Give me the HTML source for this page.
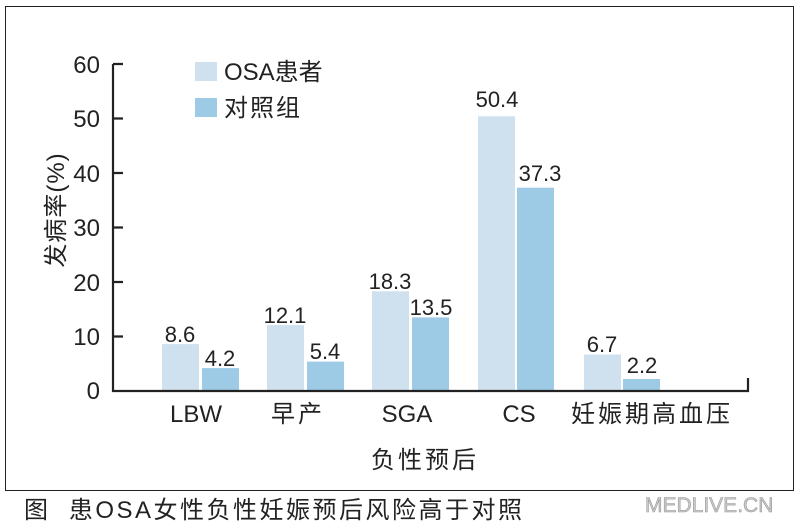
<!DOCTYPE html>
<html><head><meta charset="utf-8"><style>
body{margin:0;background:#fff;}
svg{display:block;font-family:"Liberation Sans","Noto Sans CJK SC",sans-serif;}
</style></head><body>
<svg width="798" height="525" viewBox="0 0 798 525">
<rect x="5.5" y="6.5" width="788" height="484" fill="none" stroke="#222" stroke-width="1"/>
<g fill="#cfe0ee">
<rect x="162" y="344.1" width="37" height="46.9"/>
<rect x="267" y="325.1" width="37" height="65.9"/>
<rect x="372" y="291.3" width="37" height="99.7"/>
<rect x="478" y="116.3" width="37" height="274.7"/>
<rect x="584" y="354.5" width="37" height="36.5"/>
</g>
<g fill="#9dcbe6">
<rect x="202" y="368.1" width="37" height="22.9"/>
<rect x="307" y="361.6" width="37" height="29.4"/>
<rect x="412" y="317.4" width="37" height="73.6"/>
<rect x="517" y="187.7" width="37" height="203.3"/>
<rect x="623" y="379" width="37" height="12"/>
</g>
<g stroke="#222" stroke-width="2.2" fill="none">
<path d="M113 64 V391 H748 V378"/>
<path d="M113 64 H123 M113 118.5 H123 M113 173 H123 M113 227.5 H123 M113 282 H123 M113 336.5 H123"/>
</g>
<g font-size="24" fill="#222" text-anchor="end">
<text x="100" y="73">60</text><text x="100" y="127">50</text><text x="100" y="182">40</text>
<text x="100" y="236">30</text><text x="100" y="291">20</text><text x="100" y="345">10</text><text x="100" y="399">0</text>
</g>
<g font-size="22" fill="#222" text-anchor="middle">
<text x="180" y="342">8.6</text><text x="220" y="366">4.2</text>
<text x="285" y="323">12.1</text><text x="325" y="359">5.4</text>
<text x="390" y="289">18.3</text><text x="431" y="315">13.5</text>
<text x="497" y="107">50.4</text><text x="540" y="181">37.3</text>
<text x="602" y="352">6.7</text><text x="642" y="373">2.2</text>
</g>
<g font-size="24" fill="#222" text-anchor="middle">
<text x="196" y="422">LBW</text><text x="298" y="422" letter-spacing="3">早产</text><text x="407" y="422">SGA</text>
<text x="519" y="422">CS</text><text x="652" y="422" letter-spacing="3">妊娠期高血压</text>
<text x="425" y="468" letter-spacing="3">负性预后</text>
</g>
<text transform="translate(64,210) rotate(-90)" font-size="24" fill="#222" text-anchor="middle" letter-spacing="1">发病率(%)</text>
<rect x="195" y="62" width="22" height="19" fill="#cfe0ee"/>
<rect x="195" y="98" width="22" height="19" fill="#9dcbe6"/>
<text x="224" y="80" font-size="24" fill="#222">OSA患者</text>
<text x="224" y="116" font-size="24" fill="#222" letter-spacing="2">对照组</text>
<text x="24" y="518" font-size="24" fill="#222" letter-spacing="2.5">图 &#160;患OSA女性负性妊娠预后风险高于对照</text>
<text x="645" y="512" font-size="21" fill="#ccc" stroke="#999" stroke-width="0.6">MEDLIVE.CN</text>
</svg>
</body></html>
